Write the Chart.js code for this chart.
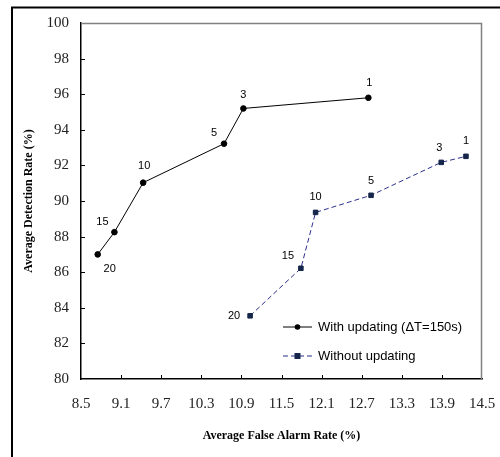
<!DOCTYPE html>
<html>
<head>
<meta charset="utf-8">
<script src="https://cdn.jsdelivr.net/npm/chart.js@4.4.1/dist/chart.umd.min.js"></script>
<style>
  html, body { margin: 0; padding: 0; background: #fff; overflow: hidden; }
  #wrap { width: 500px; height: 457px; }
  canvas { display: block; }
</style>
</head>
<body>
<div id="wrap"><canvas id="c" width="500" height="457"></canvas></div>
<script>
/* ── Data ── */
const withX = [8.75, 9.0, 9.43, 10.64, 10.93, 12.8];
const withY = [87.0, 88.25, 91.03, 93.22, 95.2, 95.8];
const withLabels = ['20', '15', '10', '5', '3', '1'];

const withoutX = [11.03, 11.79, 12.01, 12.84, 13.89, 14.26];
const withoutY = [83.55, 86.22, 89.36, 90.32, 92.17, 92.51];
const withoutLabels = ['20', '15', '10', '5', '3', '1'];

const xTicks = [8.5, 9.1, 9.7, 10.3, 10.9, 11.5, 12.1, 12.7, 13.3, 13.9, 14.5];
const yTicks = [80, 82, 84, 86, 88, 90, 92, 94, 96, 98, 100];

const seriesNames = ['With updating (\u0394T=150s)', 'Without updating'];

/* label offsets from each point (px) */
const withOffsets = [[12, 15], [-12, -10], [1, -17], [-10, -11], [0, -13], [1, -15]];
const withoutOffsets = [[-16, 0], [-13, -12], [0, -15], [0, -14], [-2, -14], [0, -15]];

const NAVY = '#15264a';
const DASH_BLUE = '#2b2f8c';
const SERIF = "'Liberation Serif', 'Times New Roman', serif";
const SANS = "'Liberation Sans', Arial, sans-serif";

const toPoints = (xs, ys) => xs.map((x, i) => ({ x, y: ys[i] }));

/* ── Decorations: frame, inner ticks, point labels, legend ── */
const decor = {
  id: 'decor',
  beforeDatasetsDraw(chart) {
    const { ctx, chartArea: a } = chart;
    ctx.save();
    // outer figure frame (left + top)
    ctx.strokeStyle = '#000';
    ctx.lineWidth = 2;
    ctx.beginPath();
    ctx.moveTo(12, 457);
    ctx.lineTo(12, 7.5);
    ctx.lineTo(500, 7.5);
    ctx.stroke();
    // plot box top/right in grey
    ctx.strokeStyle = '#808080';
    ctx.lineWidth = 1.5;
    ctx.beginPath();
    ctx.moveTo(a.left, a.top + 0.5);
    ctx.lineTo(a.right - 0.5, a.top + 0.5);
    ctx.lineTo(a.right - 0.5, a.bottom);
    ctx.stroke();
    // inward tick marks
    ctx.strokeStyle = '#000';
    ctx.lineWidth = 1;
    const xs = chart.scales.x, ys = chart.scales.y;
    ctx.beginPath();
    xTicks.slice(1, -1).forEach(v => {
      const px = Math.round(xs.getPixelForValue(v)) + 0.5;
      ctx.moveTo(px, a.bottom);
      ctx.lineTo(px, a.bottom - 4);
    });
    yTicks.slice(1, -1).forEach(v => {
      const py = Math.round(ys.getPixelForValue(v)) + 0.5;
      ctx.moveTo(a.left, py);
      ctx.lineTo(a.left + 4, py);
    });
    ctx.stroke();
    ctx.restore();
  },
  afterDraw(chart) {
    const { ctx, chartArea: a } = chart;
    ctx.save();
    ctx.font = '11px ' + SANS;
    ctx.fillStyle = '#000';
    ctx.textAlign = 'center';
    ctx.textBaseline = 'middle';
    [[withLabels, withOffsets], [withoutLabels, withoutOffsets]].forEach(([labs, offs], di) => {
      chart.getDatasetMeta(di).data.forEach((el, i) => {
        ctx.fillText(labs[i], el.x + offs[i][0], el.y + offs[i][1]);
      });
    });

    // legend
    const lx = a.right - 199, lw = 29;
    const rows = [a.bottom - 52, a.bottom - 23];
    ctx.font = '13px ' + SANS;
    ctx.textAlign = 'left';
    ctx.strokeStyle = '#000';
    ctx.lineWidth = 1;
    ctx.beginPath();
    ctx.moveTo(lx, rows[0]);
    ctx.lineTo(lx + lw, rows[0]);
    ctx.stroke();
    ctx.beginPath();
    ctx.arc(lx + lw / 2, rows[0], 2.8, 0, Math.PI * 2);
    ctx.fill();
    ctx.fillText(seriesNames[0], lx + 35, rows[0]);
    ctx.strokeStyle = DASH_BLUE;
    ctx.setLineDash([5, 3]);
    ctx.beginPath();
    ctx.moveTo(lx, rows[1]);
    ctx.lineTo(lx + lw, rows[1]);
    ctx.stroke();
    ctx.setLineDash([]);
    ctx.fillStyle = NAVY;
    ctx.fillRect(lx + lw / 2 - 3, rows[1] - 3, 6, 6);
    ctx.fillStyle = '#000';
    ctx.fillText(seriesNames[1], lx + 35, rows[1]);
    ctx.restore();
  }
};

new Chart(document.getElementById('c'), {
  type: 'scatter',
  data: {
    datasets: [
      {
        label: seriesNames[0],
        data: toPoints(withX, withY),
        showLine: true,
        borderColor: '#000',
        backgroundColor: '#000',
        borderWidth: 1,
        pointStyle: 'circle',
        pointRadius: 2.8,
        pointHoverRadius: 2.8,
      },
      {
        label: seriesNames[1],
        data: toPoints(withoutX, withoutY),
        showLine: true,
        borderColor: DASH_BLUE,
        borderDash: [5, 3],
        borderWidth: 1,
        backgroundColor: NAVY,
        pointBorderColor: NAVY,
        pointStyle: 'rect',
        pointRadius: 3.2,
        pointHoverRadius: 3.2,
      },
    ],
  },
  options: {
    responsive: false,
    animation: false,
    events: [],
    layout: { padding: { left: 12, right: 18, top: 23, bottom: 0 } },
    plugins: {
      legend: { display: false },
      tooltip: { enabled: false },
    },
    scales: {
      x: {
        type: 'linear',
        min: 8.5,
        max: 14.5,
        afterBuildTicks: s => { s.ticks = xTicks.map(v => ({ value: v })); },
        afterFit: s => { s.height = 78; s.paddingLeft = 0; s.paddingRight = 0; },
        grid: { display: false, drawTicks: false },
        border: { display: true, color: '#000', width: 1.5 },
        ticks: {
          color: '#222',
          padding: 16,
          maxRotation: 0,
          autoSkip: false,
          font: { family: SERIF, size: 15 },
          callback: v => v.toFixed(1),
        },
        title: {
          display: true,
          text: 'Average False Alarm Rate (%)',
          color: '#000',
          font: { family: SERIF, size: 12, weight: 'bold' },
          padding: { top: 0, bottom: 14 },
        },
      },
      y: {
        type: 'linear',
        min: 80,
        max: 100,
        afterBuildTicks: s => { s.ticks = yTicks.map(v => ({ value: v })); },
        afterFit: s => { s.width = 69; s.paddingTop = 0; s.paddingBottom = 0; },
        grid: { display: false, drawTicks: false },
        border: { display: true, color: '#000', width: 1.5 },
        ticks: {
          color: '#222',
          padding: 12,
          autoSkip: false,
          font: { family: SERIF, size: 15 },
        },
        title: {
          display: true,
          text: 'Average Detection Rate (%)',
          color: '#000',
          font: { family: SERIF, size: 12, weight: 'bold' },
          padding: { top: 10, bottom: 0 },
        },
      },
    },
  },
  plugins: [decor],
});
</script>
</body>
</html>
